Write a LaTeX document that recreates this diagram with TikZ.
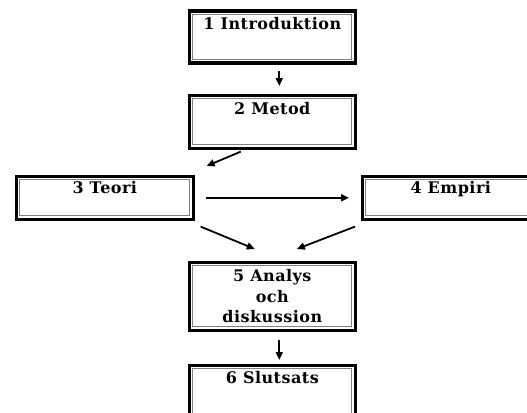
\documentclass[tikz,border=0pt]{standalone}
\usepackage{fontspec}
\newfontfamily\chapfont{DejaVu Serif}[LetterSpace=3]
\usetikzlibrary{arrows.meta}

\begin{document}
\begin{tikzpicture}
        [
            x=1pt, y=-1pt,
            chapter/.style={draw, line width=3.6pt, anchor=north west, inner ysep=0pt,
                minimum width=166pt, align=center,
                font=\chapfont\bfseries\fontsize{16}{20.5}\selectfont,
                path picture={\draw[gray, line width=1pt]
                    ([shift={(3.6pt,-3.6pt)}]path picture bounding box.north west) rectangle
                    ([shift={(-3.6pt,3.6pt)}]path picture bounding box.south east);}},
            flow/.style={-{Triangle[length=8pt,width=7pt]}, line width=1.8pt},
        ]
            \useasboundingbox (0,0) rectangle (527,412);

            \node[chapter, text height=18.5pt, text depth=33.5pt] (intro) at (187.5, 9.5) {1 Introduktion};
            \node[chapter, text height=19.5pt, text depth=33.5pt] (metod) at (187.5, 93.5) {2 Metod};
            \node[chapter, minimum width=177pt, text height=17.5pt, text depth=25.5pt] (teori) at (14.5, 174.5) {3 Teori};
            \node[chapter, minimum width=177pt, text height=17.5pt, text depth=25.5pt] (empiri) at (360.5, 174.5) {4 Empiri};
            \node[chapter, minimum height=68pt] (analys) at (187.5, 260.5) {5 Analys\\och\\diskussion};
            \node[chapter, text height=18.5pt, text depth=33.5pt] (slutsats) at (187.5, 363.5) {6 Slutsats};

            \draw[flow, shorten <=5.5pt, shorten >=7.5pt] ([xshift=7pt]intro.south) -- ([xshift=7pt]metod.north);
            \draw[flow] ([xshift=-31.5pt, yshift=-1.5pt]metod.south) -- ([xshift=11.5pt, yshift=8.5pt]teori.north east);
            \draw[flow, shorten <=10.5pt, shorten >=11.5pt] (teori.east) -- (empiri.west);
            \draw[flow] ([xshift=5.5pt, yshift=-5.5pt]teori.south east) -- ([xshift=-17.5pt, yshift=11.5pt]analys.north);
            \draw[flow] ([xshift=-5.5pt, yshift=-5.5pt]empiri.south west) -- ([xshift=24.5pt, yshift=11.5pt]analys.north);
            \draw[flow, shorten <=7.5pt, shorten >=3.5pt] ([xshift=7pt]analys.south) -- ([xshift=7pt]slutsats.north);
        \end{tikzpicture}
\end{document}
